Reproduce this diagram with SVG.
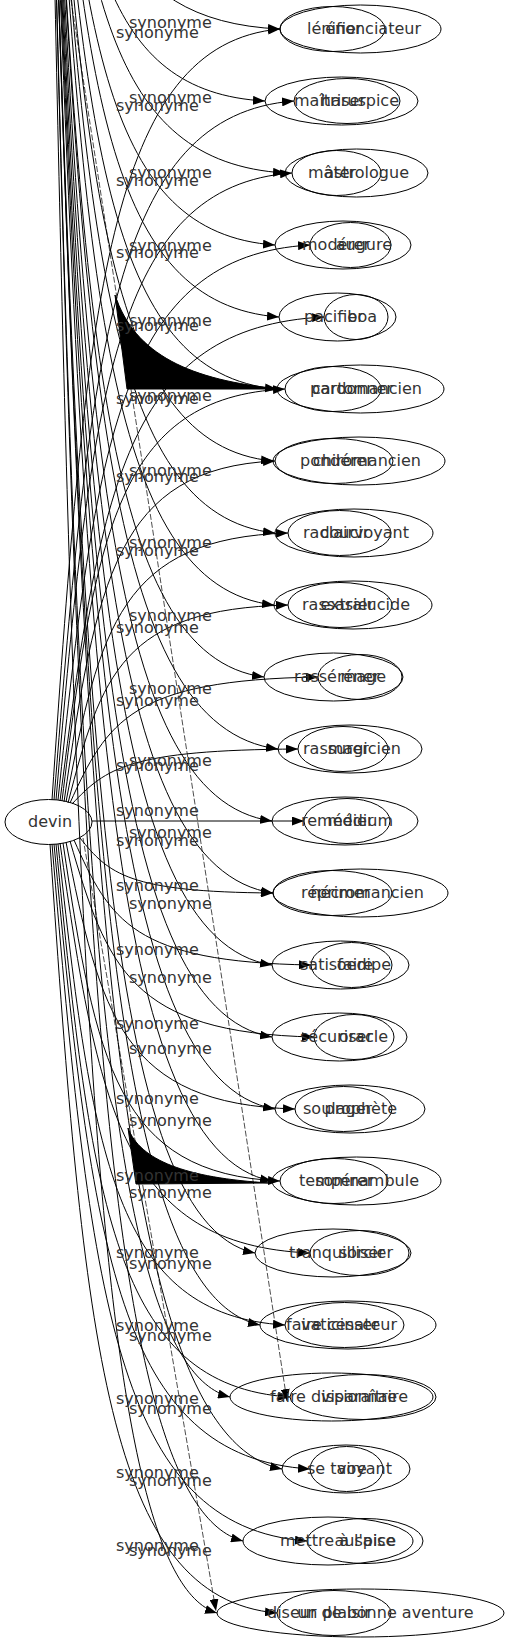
<svg xmlns="http://www.w3.org/2000/svg" width="510" height="1643" viewBox="0 0 510 1643">
<style>
text{font-family:"DejaVu Sans",sans-serif;font-size:16px;fill:#333}
.n ellipse{fill:none;stroke:#000;stroke-width:1}
.e path{fill:none;stroke:#000;stroke-width:1;marker-end:url(#a)}
.e path.t{stroke-width:0.7;stroke-dasharray:6 2}
.f{fill:#000;stroke:#000}
.l text{text-anchor:start}
</style>
<defs>
<marker id="a" markerWidth="12" markerHeight="9" refX="12" refY="4.5" orient="auto" markerUnits="userSpaceOnUse"><path d="M0,0 L12,4.5 L0,9 z" fill="#000"/></marker>
</defs>
<rect width="510" height="1643" fill="#fff"/>
<g class="e" id="edges">
<path d="M52,800 C86,299 109,44 280,29"/>
<path d="M54,800 C90,346 114,115 294,101"/>
<path d="M56,800 C91,392 115,186 292,173"/>
<path d="M58,800 C96,439 121,256 310,245"/>
<path d="M60,801 C100,486 126,327 324,317"/>
<path d="M62,801 C95,533 118,397 285,389"/>
<path d="M64,802 C96,580 117,468 275,461"/>
<path d="M66,802 C99,627 122,538 288,533"/>
<path d="M68,803 C101,674 123,609 288,605"/>
<path d="M70,803 C107,721 132,680 318,677"/>
<path d="M72,804 C106,768 129,750 298,749"/>
<path d="M92,821 L304,821"/>
<path d="M80,838 C109,874 128,892 273,893"/>
<path d="M74,840 C110,921 133,962 311,965"/>
<path d="M70,841 C107,968 131,1033 314,1037"/>
<path d="M66,842 C100,1016 123,1104 295,1109"/>
<path d="M63,843 C96,1063 117,1174 280,1181"/>
<path d="M60,843 C98,1110 123,1245 310,1253"/>
<path d="M58,844 C92,1157 115,1315 285,1325"/>
<path d="M56,844 C91,1203 115,1386 290,1397"/>
<path d="M54,844 C92,1250 118,1457 310,1469"/>
<path d="M52,844 C90,1297 116,1527 307,1541"/>
<path d="M50,844 C84,1344 107,1598 277,1613"/>
<path d="M48,-350 C83,-104 106,21 280,29"/>
<path d="M48,-350 C80,-57 102,92 265,101"/>
<path d="M48,-350 C83,-10 107,162 285,173"/>
<path d="M48,-350 C82,37 105,233 275,245"/>
<path d="M48,-350 C83,84 106,304 279,317"/>
<path d="M48,-350 C82,130 105,374 277,389"/>
<path d="M48,-350 C82,177 104,445 273,461"/>
<path d="M48,-350 C82,224 105,515 275,533"/>
<path d="M48,-350 C82,271 104,586 274,605"/>
<path d="M48,-350 C80,317 102,656 264,677"/>
<path d="M48,-350 C82,364 105,727 278,749"/>
<path d="M48,-350 C82,411 104,798 272,821"/>
<path d="M48,-350 C82,458 104,868 273,893"/>
<path d="M48,-350 C82,505 104,939 272,965"/>
<path d="M48,-350 C82,551 104,1009 272,1037"/>
<path d="M48,-350 C82,598 105,1080 275,1109"/>
<path d="M48,-350 C82,645 104,1150 272,1181"/>
<path d="M48,-350 C79,692 100,1221 255,1253"/>
<path d="M48,-350 C80,739 101,1291 260,1325"/>
<path d="M48,-350 C75,785 93,1362 230,1397"/>
<path d="M48,-350 C83,832 106,1433 282,1469"/>
<path d="M48,-350 C77,879 97,1503 243,1541"/>
<path d="M48,-350 C73,926 90,1574 217,1613"/>
<path class="t" d="M71,0 L287,1401"/>
<path class="t" d="M83,838 L216,1611"/>
</g>
<path class="f" d="M115,295 C135,355 190,380 280,389 L127,389 Z"/>
<path class="f" d="M128,1128 C140,1160 185,1178 270,1183 L136,1184 Z"/>
<g class="l" id="labels">
<text x="129" y="28">synonyme</text>
<text x="129" y="103">synonyme</text>
<text x="129" y="178">synonyme</text>
<text x="129" y="251">synonyme</text>
<text x="129" y="326">synonyme</text>
<text x="129" y="401">synonyme</text>
<text x="129" y="476">synonyme</text>
<text x="129" y="548">synonyme</text>
<text x="129" y="621">synonyme</text>
<text x="129" y="694">synonyme</text>
<text x="129" y="766">synonyme</text>
<text x="129" y="838">synonyme</text>
<text x="129" y="909">synonyme</text>
<text x="129" y="983">synonyme</text>
<text x="129" y="1054">synonyme</text>
<text x="129" y="1126">synonyme</text>
<text x="129" y="1198">synonyme</text>
<text x="129" y="1269">synonyme</text>
<text x="129" y="1341">synonyme</text>
<text x="129" y="1414">synonyme</text>
<text x="129" y="1486">synonyme</text>
<text x="129" y="1556">synonyme</text>
<text x="116" y="38">synonyme</text>
<text x="116" y="111">synonyme</text>
<text x="116" y="186">synonyme</text>
<text x="116" y="258">synonyme</text>
<text x="116" y="331">synonyme</text>
<text x="116" y="404">synonyme</text>
<text x="116" y="482">synonyme</text>
<text x="116" y="556">synonyme</text>
<text x="116" y="633">synonyme</text>
<text x="116" y="706">synonyme</text>
<text x="116" y="771">synonyme</text>
<text x="116" y="816">synonyme</text>
<text x="116" y="846">synonyme</text>
<text x="116" y="891">synonyme</text>
<text x="116" y="955">synonyme</text>
<text x="116" y="1029">synonyme</text>
<text x="116" y="1104">synonyme</text>
<text x="116" y="1181">synonyme</text>
<text x="116" y="1258">synonyme</text>
<text x="116" y="1331">synonyme</text>
<text x="116" y="1404">synonyme</text>
<text x="116" y="1478">synonyme</text>
<text x="116" y="1551">synonyme</text>
</g>
<g id="devin" class="n"><ellipse cx="48.5" cy="822" rx="43.5" ry="22.5"/><text x="50" y="827" text-anchor="middle">devin</text></g>
<g class="n">
<g id="n1"><ellipse cx="360.5" cy="29" rx="80.5" ry="24"/><ellipse cx="332.5" cy="29" rx="52.5" ry="22.5"/><text x="307" y="34">lénifier</text><text x="421" y="34" text-anchor="end">énonciateur</text></g>
<g id="n2"><ellipse cx="341.5" cy="101" rx="76.5" ry="24"/><ellipse cx="347" cy="101" rx="53" ry="22.5"/><text x="294" y="106">maîtriser</text><text x="399" y="106" text-anchor="end">haruspice</text></g>
<g id="n3"><ellipse cx="356.5" cy="173" rx="71.5" ry="24"/><ellipse cx="336.5" cy="173" rx="44.5" ry="22.5"/><text x="308" y="178">mâter</text><text x="409" y="178" text-anchor="end">astrologue</text></g>
<g id="n4"><ellipse cx="343" cy="245" rx="68" ry="24"/><ellipse cx="350.5" cy="245" rx="40.5" ry="22.5"/><text x="302" y="250">modérer</text><text x="392" y="250" text-anchor="end">augure</text></g>
<g id="n5"><ellipse cx="337.5" cy="317" rx="58.5" ry="24"/><ellipse cx="356" cy="317" rx="32" ry="22.5"/><text x="304" y="322">pacifier</text><text x="377" y="322" text-anchor="end">boa</text></g>
<g id="n6"><ellipse cx="360.5" cy="389" rx="83.5" ry="24"/><ellipse cx="333" cy="389" rx="48" ry="22.5"/><text x="310" y="394">pardonner</text><text x="422" y="394" text-anchor="end">cartomancien</text></g>
<g id="n7"><ellipse cx="359" cy="461" rx="86" ry="24"/><ellipse cx="334" cy="461" rx="59" ry="22.5"/><text x="300" y="466">pondérer</text><text x="421" y="466" text-anchor="end">chiromancien</text></g>
<g id="n8"><ellipse cx="354" cy="533" rx="79" ry="24"/><ellipse cx="339.5" cy="533" rx="51.5" ry="22.5"/><text x="303" y="538">radoucir</text><text x="409" y="538" text-anchor="end">clairvoyant</text></g>
<g id="n9"><ellipse cx="353" cy="605" rx="79" ry="24"/><ellipse cx="340" cy="605" rx="52" ry="22.5"/><text x="302" y="610">rassasier</text><text x="410" y="610" text-anchor="end">extralucide</text></g>
<g id="n10"><ellipse cx="333.5" cy="677" rx="69.5" ry="24"/><ellipse cx="360" cy="677" rx="42" ry="22.5"/><text x="294" y="682">rasséréner</text><text x="386" y="682" text-anchor="end">mage</text></g>
<g id="n11"><ellipse cx="350" cy="749" rx="72" ry="24"/><ellipse cx="343" cy="749" rx="45" ry="22.5"/><text x="303" y="754">rassurer</text><text x="401" y="754" text-anchor="end">magicien</text></g>
<g id="n12"><ellipse cx="345" cy="821" rx="73" ry="24"/><ellipse cx="347" cy="821" rx="43" ry="22.5"/><text x="301" y="826">remédier</text><text x="393" y="826" text-anchor="end">médium</text></g>
<g id="n13"><ellipse cx="360.5" cy="893" rx="87.5" ry="24"/><ellipse cx="332.5" cy="893" rx="59.5" ry="22.5"/><text x="301" y="898">réprimer</text><text x="424" y="898" text-anchor="end">nécromancien</text></g>
<g id="n14"><ellipse cx="340.5" cy="965" rx="68.5" ry="24"/><ellipse cx="351.5" cy="965" rx="40.5" ry="22.5"/><text x="300" y="970">satisfaire</text><text x="391" y="970" text-anchor="end">oedipe</text></g>
<g id="n15"><ellipse cx="339.5" cy="1037" rx="67.5" ry="24"/><ellipse cx="354" cy="1037" rx="40" ry="22.5"/><text x="300" y="1042">sécuriser</text><text x="388" y="1042" text-anchor="end">oracle</text></g>
<g id="n16"><ellipse cx="350" cy="1109" rx="75" ry="24"/><ellipse cx="343.5" cy="1109" rx="48.5" ry="22.5"/><text x="303" y="1114">soulager</text><text x="397" y="1114" text-anchor="end">prophète</text></g>
<g id="n17"><ellipse cx="356.5" cy="1181" rx="84.5" ry="24"/><ellipse cx="334" cy="1181" rx="54" ry="22.5"/><text x="299" y="1186">tempérer</text><text x="419" y="1186" text-anchor="end">somnambule</text></g>
<g id="n18"><ellipse cx="333" cy="1253" rx="78" ry="24"/><ellipse cx="359.5" cy="1253" rx="49.5" ry="22.5"/><text x="289" y="1258">tranquilliser</text><text x="393" y="1258" text-anchor="end">sorcier</text></g>
<g id="n19"><ellipse cx="348" cy="1325" rx="88" ry="24"/><ellipse cx="344.5" cy="1325" rx="59.5" ry="22.5"/><text x="286" y="1330">faire cesser</text><text x="397" y="1330" text-anchor="end">vaticinateur</text></g>
<g id="n20"><ellipse cx="331.5" cy="1397" rx="101.5" ry="24"/><ellipse cx="363" cy="1397" rx="73" ry="22.5"/><text x="270" y="1402">faire disparaître</text><text x="408" y="1402" text-anchor="end">visionnaire</text></g>
<g id="n21"><ellipse cx="346" cy="1469" rx="64" ry="24"/><ellipse cx="346.5" cy="1469" rx="36.5" ry="22.5"/><text x="307" y="1474">se taire</text><text x="392" y="1474" text-anchor="end">voyant</text></g>
<g id="n22"><ellipse cx="328" cy="1541" rx="85" ry="24"/><ellipse cx="365" cy="1541" rx="58" ry="22.5"/><text x="280" y="1546">mettre à l'aise</text><text x="396" y="1546" text-anchor="end">auspice</text></g>
<g id="n23"><ellipse cx="360.5" cy="1613" rx="143.5" ry="24"/><ellipse cx="334" cy="1613" rx="57" ry="22.5"/><text x="267" y="1618">diseur de bonne aventure</text><text x="334" y="1618" text-anchor="middle">un plaisir</text></g>
</g>
</svg>
